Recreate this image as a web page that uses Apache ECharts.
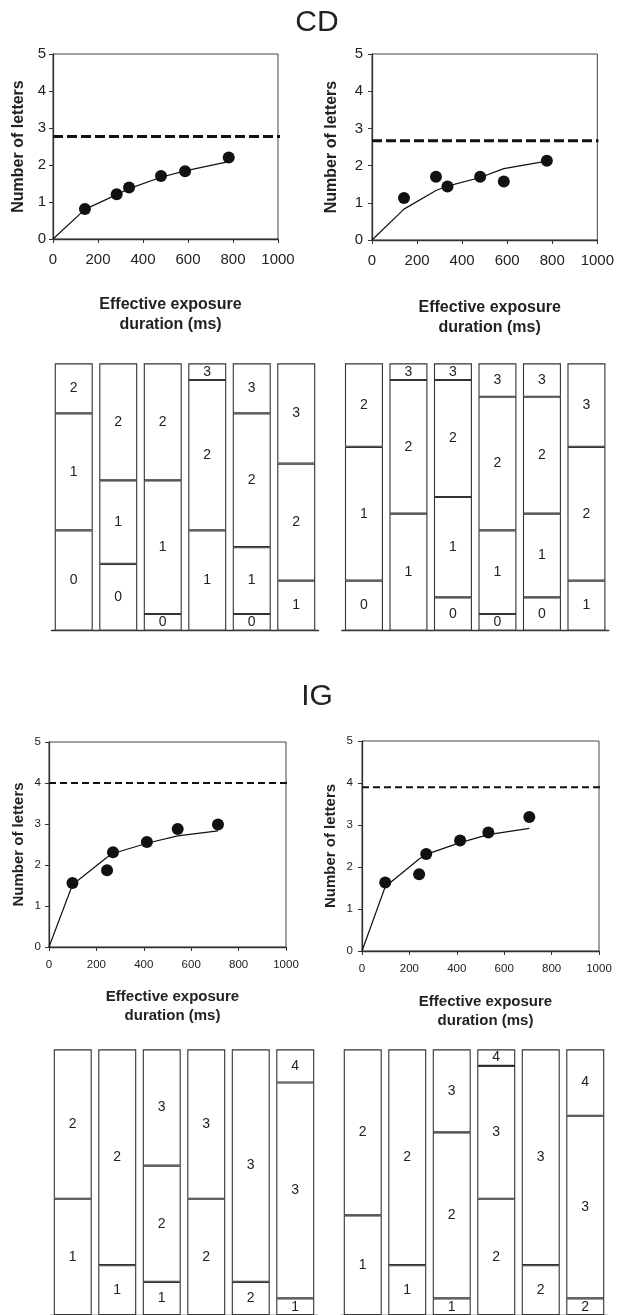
<!DOCTYPE html>
<html>
<head>
<meta charset="utf-8">
<title>CD / IG</title>
<script src="https://cdn.jsdelivr.net/npm/echarts@6/dist/echarts.min.js"></script>
<style>
  html, body { margin: 0; padding: 0; background: #fff; }
  #chart { width: 617px; height: 1315px; }
</style>
</head>
<body>
<div id="chart"></div>
<script>
// ---- data ----
const stackColumns = ['1', '2', '3', '4', '5', '6']

// CD, left: mean number of letters vs effective exposure duration
const cdLeftX = [142, 283, 338, 480, 587, 781]
const cdLeftY = [0.81, 1.21, 1.39, 1.70, 1.83, 2.20]
const cdLeftFitX = [0, 142, 283, 338, 480, 587, 781]
const cdLeftFitY = [0, 0.80, 1.20, 1.36, 1.67, 1.84, 2.09]
const cdLeftCapacity = 2.77

// CD, right
const cdRightX = [142, 284, 335, 480, 585, 776]
const cdRightY = [1.13, 1.70, 1.44, 1.70, 1.57, 2.13]
const cdRightFitX = [0, 142, 284, 335, 480, 585, 776]
const cdRightFitY = [0, 0.83, 1.33, 1.45, 1.68, 1.92, 2.12]
const cdRightCapacity = 2.67

// IG, left
const igLeftX = [99, 245, 270, 413, 543, 713]
const igLeftY = [1.56, 1.87, 2.31, 2.56, 2.88, 2.99]
const igLeftFitX = [0, 99, 245, 270, 413, 543, 713]
const igLeftFitY = [0, 1.52, 2.19, 2.28, 2.53, 2.71, 2.83]
const igLeftCapacity = 4.0

// IG, right
const igRightX = [98, 241, 271, 414, 533, 706]
const igRightY = [1.63, 1.83, 2.31, 2.63, 2.82, 3.19]
const igRightFitX = [0, 98, 241, 271, 414, 533, 706]
const igRightFitY = [0, 1.53, 2.19, 2.30, 2.58, 2.77, 2.92]
const igRightCapacity = 3.9

// response distributions (trials per number of letters reported), one row per level
const cdLeftLevels = [0, 1, 2, 3]
const cdLeftCounts = [
  [6, 4, 1, null, 1, null],
  [7, 5, 8, 6, 4, 3],
  [3, 7, 7, 9, 8, 7],
  [null, null, null, 1, 3, 6],
]
const cdRightLevels = [0, 1, 2, 3]
const cdRightCounts = [
  [3, null, 2, 1, 2, null],
  [8, 7, 6, 5, 5, 3],
  [5, 8, 7, 8, 7, 8],
  [null, 1, 1, 2, 2, 5],
]
const igLeftLevels = [1, 2, 3, 4]
const igLeftCounts = [
  [7, 3, 2, null, null, 1],
  [9, 13, 7, 7, 2, null],
  [null, null, 7, 9, 14, 13],
  [null, null, null, null, null, 2],
]
const igRightLevels = [1, 2, 3, 4]
const igRightCounts = [
  [6, 3, 1, null, null, null],
  [10, 13, 10, 7, 3, 1],
  [null, null, 5, 8, 13, 11],
  [null, null, null, 1, null, 4],
]

// ---- layout ----
const fontFamily = "'Liberation Sans', Arial, sans-serif"
const ink = '#222'
const axisColor = '#333'

// curve panels: [cd-left, cd-right, ig-left, ig-right]
const curveLayout = [
  { grid: { left: 53, top: 54, width: 225, height: 185 }, tick: 15, name: 16, yGap: 26, xGap: 56, yMargin: 7, xMargin: 13, dash: [10, 4], dashWidth: 3, capEnd: 1022 },
  { grid: { left: 372, top: 54, width: 228, height: 186 }, tick: 15, name: 16, yGap: 32, xGap: 58, yMargin: 9, xMargin: 13, dash: [10, 4], dashWidth: 3, capEnd: 1005 },
  { grid: { left: 49, top: 742, width: 237, height: 205 }, tick: 11.5, name: 15, yGap: 23, xGap: 40, yMargin: 8, xMargin: 12, dash: [7, 4], dashWidth: 2, capEnd: 1016 },
  { grid: { left: 362, top: 741, width: 237, height: 210 }, tick: 11.5, name: 15, yGap: 24, xGap: 41, yMargin: 9, xMargin: 12, dash: [7, 4], dashWidth: 2, capEnd: 1010 },
]
const stackLayout = [
  { grid: { left: 51.5, top: 363.3, width: 267, height: 267.4 }, axis: 'bottom', label: 14 },
  { grid: { left: 341.7, top: 363.3, width: 267, height: 267.4 }, axis: 'bottom', label: 14 },
  { grid: { left: 50.5, top: 1049.3, width: 267, height: 266.4 }, axis: 'top', label: 14 },
  { grid: { left: 340.5, top: 1049.3, width: 267, height: 266.4 }, axis: 'top', label: 14 },
]

const curves = [
  [cdLeftX, cdLeftY, cdLeftFitX, cdLeftFitY, cdLeftCapacity],
  [cdRightX, cdRightY, cdRightFitX, cdRightFitY, cdRightCapacity],
  [igLeftX, igLeftY, igLeftFitX, igLeftFitY, igLeftCapacity],
  [igRightX, igRightY, igRightFitX, igRightFitY, igRightCapacity],
]
const stacks = [
  [cdLeftLevels, cdLeftCounts],
  [cdRightLevels, cdRightCounts],
  [igLeftLevels, igLeftCounts],
  [igRightLevels, igRightCounts],
]

const grids = []
const xAxes = []
const yAxes = []
const series = []

curveLayout.forEach((lay, i) => {
  const gridIndex = grids.length
  grids.push({ ...lay.grid, show: true, borderColor: '#444', borderWidth: 1, backgroundColor: 'transparent' })

  xAxes.push({
    gridIndex,
    type: 'value',
    min: 0,
    max: 1000,
    interval: 200,
    name: 'Effective exposure\nduration (ms)',
    nameLocation: 'middle',
    nameGap: lay.xGap,
    nameTextStyle: { fontWeight: 'bold', fontSize: lay.name, lineHeight: lay.name + 4, color: ink, padding: [0, 0, 0, 10] },
    axisLine: { show: true, lineStyle: { color: axisColor, width: 1.3 } },
    axisTick: { show: true, length: 4, lineStyle: { color: axisColor } },
    axisLabel: { fontSize: lay.tick, color: ink, margin: lay.xMargin, showMinLabel: true, showMaxLabel: true, formatter: (v) => String(v) },
    splitLine: { show: false },
  })
  yAxes.push({
    gridIndex,
    type: 'value',
    min: 0,
    max: 5,
    interval: 1,
    name: 'Number of letters',
    nameLocation: 'middle',
    nameGap: lay.yGap,
    nameTextStyle: { fontWeight: 'bold', fontSize: lay.name, color: ink },
    axisLine: { show: true, lineStyle: { color: axisColor, width: 1.3 } },
    axisTick: { show: true, length: 4, lineStyle: { color: axisColor } },
    axisLabel: { fontSize: lay.tick, color: ink, margin: lay.yMargin },
    splitLine: { show: false },
  })

  const [px, py, fx, fy, cap] = curves[i]
  series.push({
    type: 'line',
    xAxisIndex: gridIndex,
    yAxisIndex: gridIndex,
    data: [[0, cap], [lay.capEnd, cap]],
    clip: false,
    symbol: 'none',
    silent: true,
    lineStyle: { color: '#111', width: lay.dashWidth, type: lay.dash },
  })
  series.push({
    type: 'line',
    xAxisIndex: gridIndex,
    yAxisIndex: gridIndex,
    data: fx.map((x, k) => [x, fy[k]]),
    symbol: 'none',
    silent: true,
    lineStyle: { color: '#111', width: 1.2 },
  })
  series.push({
    type: 'scatter',
    xAxisIndex: gridIndex,
    yAxisIndex: gridIndex,
    data: px.map((x, k) => [x, py[k]]),
    symbolSize: 12,
    itemStyle: { color: '#111', opacity: 1 },
    z: 5,
  })
})

stackLayout.forEach((lay, i) => {
  const gridIndex = grids.length
  grids.push({ ...lay.grid, show: false })
  xAxes.push({
    gridIndex,
    type: 'category',
    data: stackColumns,
    position: lay.axis,
    axisLine: { show: true, lineStyle: { color: axisColor, width: 1.3 } },
    axisTick: { show: false },
    axisLabel: { show: false },
  })
  yAxes.push({ gridIndex, type: 'value', min: 0, max: 16, show: false })

  const [levels, counts] = stacks[i]
  levels.forEach((level, k) => {
    series.push({
      type: 'bar',
      name: String(level),
      xAxisIndex: gridIndex,
      yAxisIndex: gridIndex,
      stack: 'dist' + i,
      barWidth: 38,
      data: counts[k],
      silent: true,
      itemStyle: { color: '#fff', borderColor: axisColor, borderWidth: 1.1 },
      label: { show: true, position: 'inside', formatter: '{a}', color: ink, fontSize: lay.label },
    })
  })
})

const myChart = echarts.init(document.getElementById('chart'), null, { renderer: 'canvas' })
myChart.setOption({
  animation: false,
  backgroundColor: '#fff',
  textStyle: { fontFamily },
  title: [
    { text: 'CD', left: 317, top: 8, textAlign: 'center', padding: 0, textStyle: { fontSize: 30, fontWeight: 'normal', color: ink } },
    { text: 'IG', left: 317, top: 682, textAlign: 'center', padding: 0, textStyle: { fontSize: 30, fontWeight: 'normal', color: ink } },
  ],
  grid: grids,
  xAxis: xAxes,
  yAxis: yAxes,
  series,
})
</script>
</body>
</html>
